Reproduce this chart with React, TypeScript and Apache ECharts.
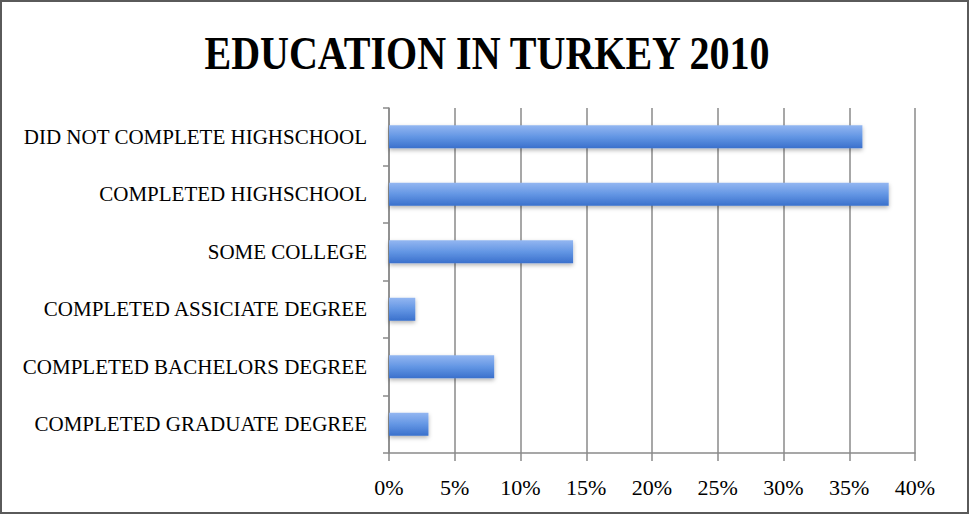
import React, { useEffect, useRef } from "react";
import * as echarts from "echarts";

const categories = [
  "DID NOT COMPLETE HIGHSCHOOL",
  "COMPLETED HIGHSCHOOL",
  "SOME COLLEGE",
  "COMPLETED ASSICIATE DEGREE",
  "COMPLETED BACHELORS DEGREE",
  "COMPLETED GRADUATE DEGREE",
];
const values = [36, 38, 14, 2, 8, 3];
const titleText = "EDUCATION IN TURKEY 2010";

export default function App() {
  const ref = useRef<HTMLDivElement>(null);
  useEffect(() => {
    document.body.style.margin = "0";
    const chart = echarts.init(ref.current!, null, { renderer: "svg" });
    const serif = '"Liberation Serif", "DejaVu Serif", serif';
    chart.setOption({
      animation: false,
      backgroundColor: "#ffffff",
      graphic: [
        {
          type: "rect",
          shape: { x: 1, y: 1, width: 967, height: 512 },
          style: { fill: "none", stroke: "#5a5a5a", lineWidth: 2 },
          silent: true,
        },
        {
          type: "text",
          x: 487,
          y: 54,
          scaleX: 0.87,
          style: {
            text: titleText,
            fontFamily: serif,
            fontWeight: "bold",
            fontSize: 46,
            fill: "#000000",
            align: "center",
            verticalAlign: "middle",
          },
        },
      ],
      grid: { left: 389, right: 54, top: 108, bottom: 61, containLabel: false },
      xAxis: {
        type: "value",
        min: 0,
        max: 40,
        interval: 5,
        axisLine: { show: true, lineStyle: { color: "#8a8a8a", width: 1.5 } },
        axisTick: { show: true, length: 8, lineStyle: { color: "#8a8a8a", width: 1.5 } },
        splitLine: { show: true, lineStyle: { color: "#8a8a8a", width: 1.5 } },
        axisLabel: {
          formatter: "{value}%",
          fontFamily: serif,
          fontSize: 22,
          color: "#000",
          margin: 23,
        },
      },
      yAxis: {
        type: "category",
        data: categories,
        inverse: true,
        axisLine: { show: true, lineStyle: { color: "#8a8a8a", width: 1.5 } },
        axisTick: { show: true, length: 6, lineStyle: { color: "#8a8a8a", width: 1.5 } },
        axisLabel: {
          fontFamily: serif,
          fontSize: 21,
          color: "#000",
          margin: 22,
        },
      },
      series: [
        {
          type: "bar",
          data: values,
          barWidth: 23,
          itemStyle: {
            color: new echarts.graphic.LinearGradient(0, 0, 0, 1, [
              { offset: 0, color: "#93b6f1" },
              { offset: 0.5, color: "#6396e4" },
              { offset: 1, color: "#3a70cc" },
            ]),
            shadowBlur: 4,
            shadowColor: "rgba(0,0,0,0.3)",
            shadowOffsetY: 2,
          },
        },
      ],
    });
    return () => chart.dispose();
  }, []);
  return <div ref={ref} style={{ width: 969, height: 514 }} />;
}
